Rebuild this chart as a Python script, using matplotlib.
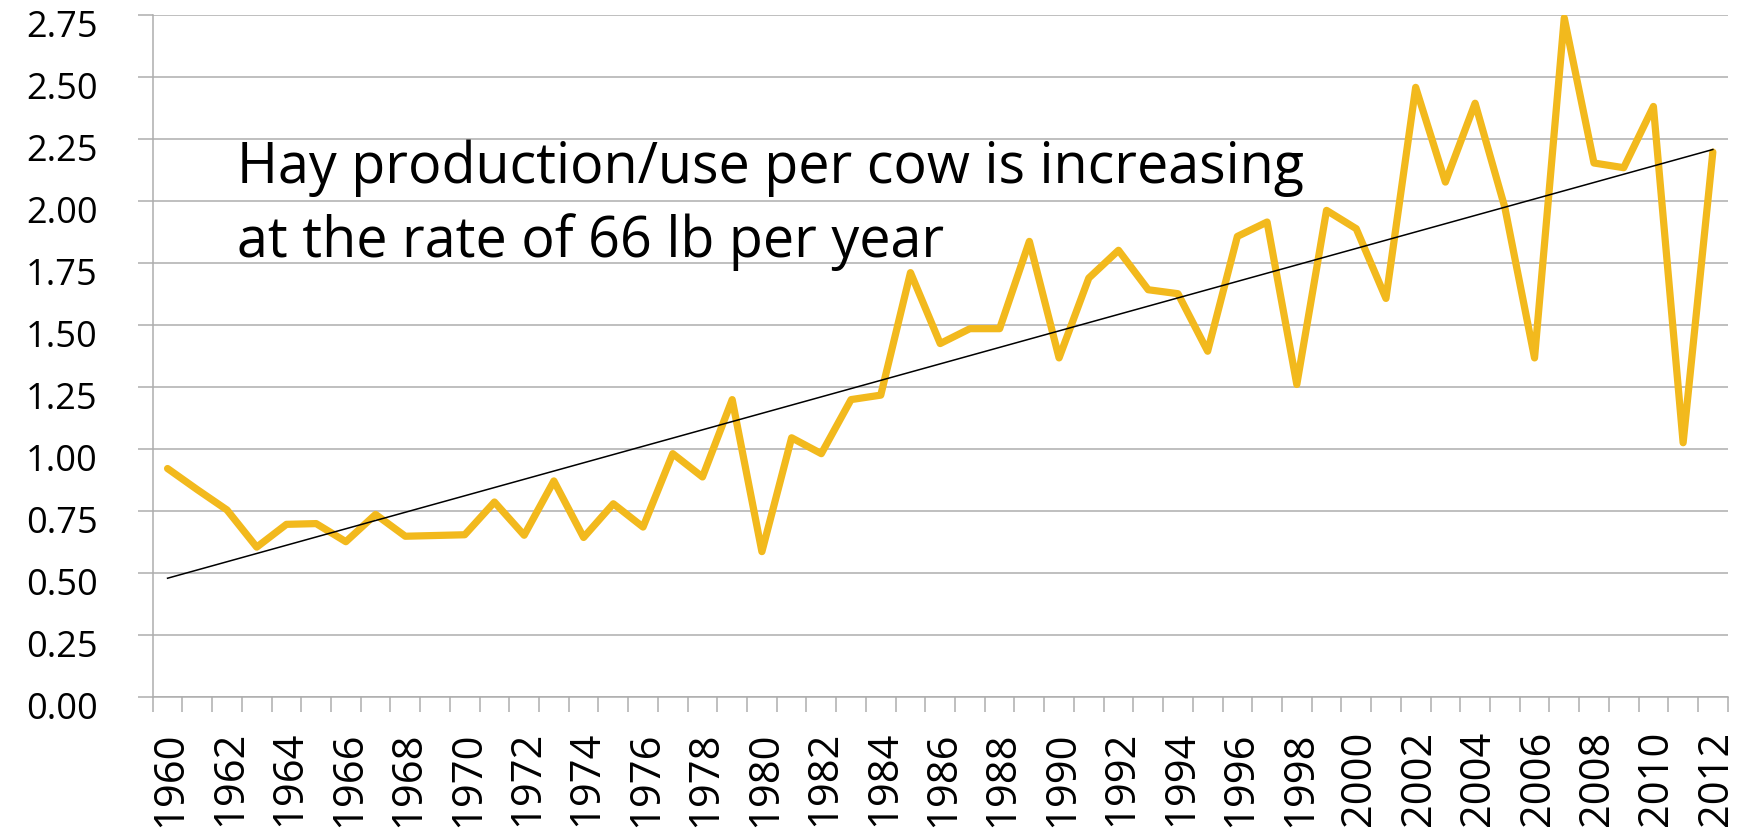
import numpy as np
import matplotlib
matplotlib.use("Agg")
import matplotlib.pyplot as plt
import matplotlib.transforms as mtransforms

# Hay production/use per cow (tons), 1960-2012
years = list(range(1960, 2013))
hay_per_cow = [
    0.920, 0.835, 0.753, 0.603, 0.695, 0.698, 0.625, 0.735, 0.647, 0.650,
    0.653, 0.785, 0.651, 0.870, 0.642, 0.778, 0.684, 0.980, 0.886, 1.198,
    0.585, 1.044, 0.980, 1.198, 1.216, 1.710, 1.424, 1.484, 1.484, 1.836,
    1.366, 1.688, 1.800, 1.641, 1.625, 1.393, 1.856, 1.914, 1.259, 1.961,
    1.887, 1.606, 2.457, 2.075, 2.393, 1.973, 1.366, 2.737, 2.152, 2.133,
    2.380, 1.024, 2.196,
]
y_ticks = [0.00, 0.25, 0.50, 0.75, 1.00, 1.25, 1.50, 1.75, 2.00, 2.25, 2.50, 2.75]
label_years = list(range(1960, 2013, 2))
note_lines = ["Hay production/use per cow is increasing",
              "at the rate of 66 lb per year"]

GOLD = "#F2B91D"
GRID = "#ADADAD"
FONT = "Open Sans"

W, H = 1747, 829
fig = plt.figure(figsize=(W / 100, H / 100), dpi=100)
fig.patch.set_facecolor("white")

left, right, top, bottom = 152.7, 1727.7, 15.7, 697.7
ax = fig.add_axes([left / W, (H - bottom) / H, (right - left) / W, (bottom - top) / H])

x = np.arange(len(years))
ax.plot(x, hay_per_cow, color=GOLD, lw=5.2, solid_joinstyle="round",
        solid_capstyle="round", zorder=3)

# Linear trend fitted to the series
slope, intercept = np.polyfit(x, hay_per_cow, 1)
ax.plot(x, slope * x + intercept, color="black", lw=1.1, zorder=4)

ax.set_xlim(-0.5, len(years) - 0.5)
ax.set_ylim(0, 2.75)

# y axis
ax.set_yticks(y_ticks)
ax.set_yticklabels([f"{v:.2f}" for v in y_ticks], fontsize=26, family=FONT)
ax.tick_params(axis="y", length=10.8, width=1.1, color=GRID, pad=29)
ax.yaxis.grid(True, color=GRID, lw=1.1, zorder=0)
ax.set_axisbelow(True)

# x axis: tick marks between categories, labels at every other year
ax.set_xticks(np.arange(-0.5, len(years), 1.0))
ax.set_xticklabels([])
ax.tick_params(axis="x", which="major", length=10.8, width=1.1, color=GRID)
label_pos = [years.index(yr) for yr in label_years]
ax.set_xticks(label_pos, minor=True)
ax.set_xticklabels([str(yr) for yr in label_years], minor=True, rotation=90,
                   fontsize=30, family=FONT)
ax.tick_params(axis="x", which="minor", length=0, pad=24)

for lbl in ax.get_yticklabels():
    lbl.set_transform(lbl.get_transform() +
                      mtransforms.ScaledTranslation(0, -8 / 100, fig.dpi_scale_trans))
for lbl in ax.get_xticklabels(minor=True):
    lbl.set_transform(lbl.get_transform() +
                      mtransforms.ScaledTranslation(3 / 100, 0, fig.dpi_scale_trans))

for side in ("top", "right"):
    ax.spines[side].set_visible(False)
for side in ("left", "bottom"):
    ax.spines[side].set_color(GRID)
    ax.spines[side].set_linewidth(1.1)

# Annotation, sized so the first line spans the intended width
texts = []
for i, line in enumerate(note_lines):
    base_y = 182.7 + 74 * i
    texts.append(fig.text(237.3 / W, 1 - base_y / H, line, fontsize=40,
                          family=FONT, va="baseline", ha="left", color="black"))
fig.canvas.draw()
w0 = texts[0].get_window_extent().width
fs = 40 * 1065 / w0
for t in texts:
    t.set_fontsize(fs)

fig.savefig("out.png", dpi=100, facecolor="white")
